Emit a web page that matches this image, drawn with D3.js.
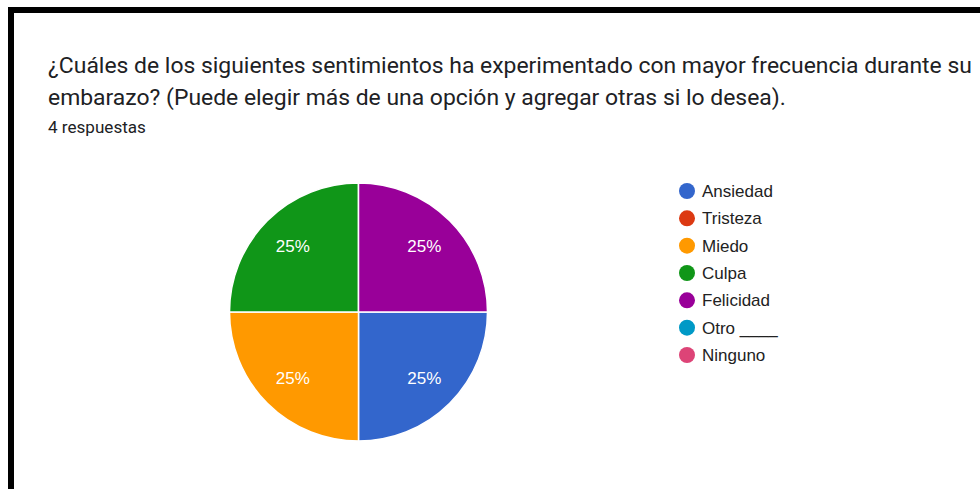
<!DOCTYPE html>
<html>
<head>
<meta charset="utf-8">
<script src="https://cdn.jsdelivr.net/npm/d3@7"></script>
<style>
  body { margin: 0; background: #fff; }
  svg { display: block; }
</style>
</head>
<body>
<div id="chart"></div>
<script>
const width = 980
const height = 489

// datos
const categories = ["Ansiedad", "Tristeza", "Miedo", "Culpa", "Felicidad", "Otro ____", "Ninguno"]
const counts = [1, 0, 1, 1, 1, 0, 0]
const colors = ["#3366cc", "#dc3912", "#ff9900", "#109618", "#990099", "#0099c6", "#dd4477"]
const titleLines = [
    "¿Cuáles de los siguientes sentimientos ha experimentado con mayor frecuencia durante su",
    "embarazo? (Puede elegir más de una opción y agregar otras si lo desea)."
]
const subtitle = "4 respuestas"

const data = categories.map((c, i) => ({ name: c, value: counts[i], color: colors[i] }))
const total = d3.sum(counts)

const svg = d3.select("#chart").append("svg").attr("width", width).attr("height", height)

// marco negro
svg.append("rect").attr("x", 8).attr("y", 7).attr("width", width - 8).attr("height", 6).attr("fill", "#000")
svg.append("rect").attr("x", 8).attr("y", 7).attr("width", 6).attr("height", height - 7).attr("fill", "#000")

// ajusta el tamaño de letra para que el texto ocupe el ancho dado
function fit(sel, target) {
    const fs = parseFloat(sel.attr("font-size"))
    const w = sel.node().getComputedTextLength()
    sel.attr("font-size", (fs * target / w).toFixed(2))
}

const title = svg.append("g").attr("font-family", "Roboto, sans-serif").attr("fill", "#202124")
const t1 = title.append("text").attr("x", 48).attr("y", 73).attr("font-size", 22).text(titleLines[0])
fit(t1, 924)
title.append("text").attr("x", 48).attr("y", 105).attr("font-size", t1.attr("font-size")).text(titleLines[1])
const st = title.append("text").attr("x", 48).attr("y", 133).attr("font-size", 15).text(subtitle)
fit(st, 98)

// pastel
const cx = 358.5, cy = 312, r = 129
const pie = d3.pie().value(d => d.value).sort(null)
    .startAngle(Math.PI / 2).endAngle(Math.PI / 2 + 2 * Math.PI)
const arc = d3.arc().innerRadius(0).outerRadius(r)
const labelArc = d3.arc().innerRadius(93).outerRadius(93)

const pieGroup = svg.append("g").attr("transform", `translate(${cx}, ${cy})`)
const arcs = pie(data).filter(d => d.value > 0)

pieGroup.selectAll("path").data(arcs).enter()
    .append("path")
    .attr("d", arc)
    .attr("fill", d => d.data.color)
    .attr("stroke", "#fff")
    .attr("stroke-width", 1.5)

pieGroup.selectAll("text").data(arcs).enter()
    .append("text")
    .attr("transform", d => `translate(${labelArc.centroid(d)})`)
    .attr("text-anchor", "middle")
    .attr("dy", "0.35em")
    .attr("font-family", "Liberation Sans, Arial, sans-serif")
    .attr("font-size", 17)
    .attr("fill", "#fff")
    .text(d => Math.round(d.value / total * 100) + "%")

// leyenda
const legendY = d3.scalePoint().domain(categories).range([191, 355])
const legend = svg.append("g")
const items = legend.selectAll("g").data(data).enter()
    .append("g")
    .attr("transform", d => `translate(687, ${legendY(d.name)})`)
items.append("circle").attr("r", 8).attr("fill", d => d.color)
items.append("text")
    .attr("x", 15)
    .attr("dy", "0.36em")
    .attr("font-family", "Liberation Sans, Arial, sans-serif")
    .attr("font-size", 17)
    .attr("fill", "#222")
    .text(d => d.name)
</script>
</body>
</html>
